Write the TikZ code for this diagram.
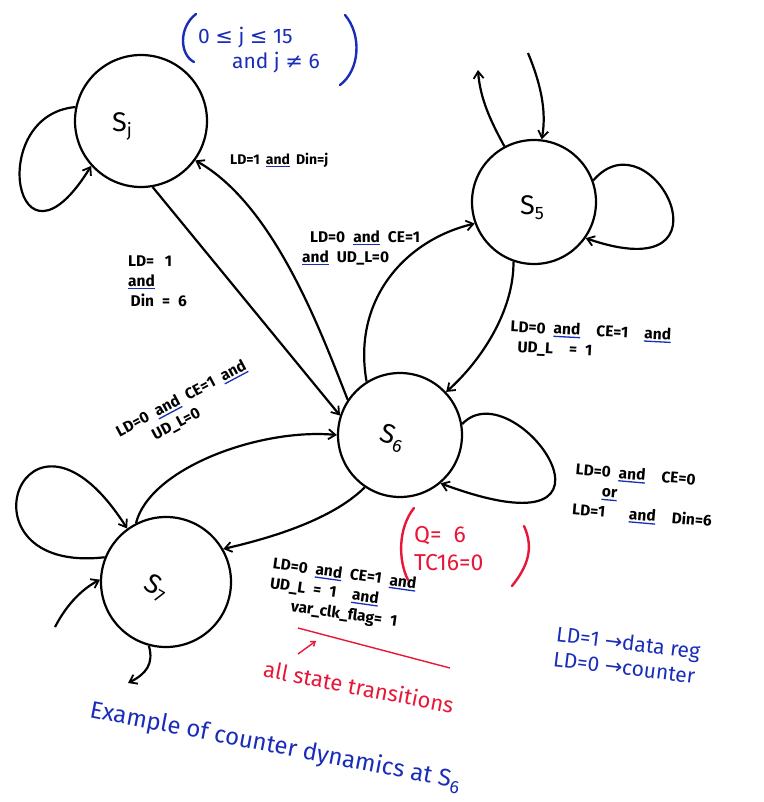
\documentclass[tikz,border=0pt]{standalone}
\usepackage{fontspec}
\setmainfont{Fira Sans}
\newfontfamily\symfont{DejaVu Sans}
\usetikzlibrary{arrows.meta}
\definecolor{penblue}{RGB}{25,45,185}
\definecolor{penred}{RGB}{232,22,55}
% blue underline used for the connective words
\newcommand\und[1]{\setbox0\hbox{#1}\rlap{\color{penblue}\rule[-3pt]{\wd0}{1.3pt}}#1}
% state name with a lowered index
\newcommand\stname[1]{S\lower5pt\hbox{\fontsize{18}{18}\selectfont #1}}
% fonts of the transition conditions, with wide word gaps
\newcommand\condfont{\fontsize{15.5}{20}\selectfont\bfseries\spaceskip=8pt plus 1pt\relax}
\newcommand\smallcondfont{\fontsize{14}{19}\selectfont\bfseries\spaceskip=6pt plus 1pt\relax}
\begin{document}
\begin{tikzpicture}[x=1pt,y=-1pt,line width=2.2pt,
  >={Straight Barb[length=7pt,width=10pt,line width=1.8pt]},
  state/.style={circle,draw,line width=2.2pt,minimum size=#1,inner sep=0pt},
  sname/.style={font=\fontsize{27}{28}\selectfont},
  cond/.style={font=\condfont,align=left,inner sep=1pt},
  bluenote/.style={text=penblue,font=\fontsize{21}{25}\selectfont,align=left,inner sep=1pt},
  rednote/.style={text=penred,font=\fontsize{22}{26}\selectfont,align=left,inner sep=1pt},
  paren/.style={line width=2.4pt,line cap=round},
  edge/.style={->,line width=2.2pt}]
\useasboundingbox (0,0) rectangle (763,802);

% states
\node[state=132pt] (sj) at (141,121) {};
\node[state=124pt] (s5) at (534,202) {};
\node[state=124pt] (s6) at (400,435) {};
\node[state=130pt] (s7) at (166,582) {};

\node[sname] (tj) at (122,126) {\stname{j}};
\node[sname] (t5) at (532,208) {\stname{5}};
\node[sname,rotate=-18] (t6) at (392,438) {\stname{6}};
\node[sname,rotate=-30] (t7) at (156,588) {\stname{7}};

% transitions between states
\draw[edge] (sj.-80) -- (s6.162);
\draw[edge] (s6.146) .. controls (322,335) and (275,205) .. (sj.-36);
\draw[edge] (s6.122) .. controls (352,300) and (405,240) .. (s5.200);
\draw[edge] (s5.251) .. controls (514,310) and (482,360) .. (s6.43);
\draw[edge] (s7.117) .. controls (150,468) and (260,428) .. (s6.180);
\draw[edge] (s6.236) .. controls (330,522) and (262,540) .. (s7.30);

% self loops
\draw[edge] (sj.168) .. controls (-15,115) and (15,290) .. (sj.222);
\draw[edge] (s5.20) .. controls (652,112) and (742,292) .. (s5.-35);
\draw[edge] (s6.10) .. controls (515,368) and (652,562) .. (s6.-50);
\draw[edge] (s7.158) .. controls (-50,575) and (25,368) .. (s7.126);

% transitions to and from other states
\coordinate (o5) at (478,70);
\coordinate (i5) at (528,53);
\coordinate (i7) at (55,627);
\coordinate (o7) at (128,683);
\draw[edge] (s5.118) .. controls (490,120) and (480,98) .. (o5);
\draw[edge] (i5) .. controls (540,82) and (547,110) .. (s5.83);
\draw[edge] (i7) .. controls (68,602) and (84,588) .. (s7.178);
\draw[edge] (s7.-105) .. controls (154,664) and (146,674) .. (o7);

% transition conditions
\node[cond,anchor=west,font=\smallcondfont] (c1) at (228,160) {LD=1 \und{and} Din=j};
\node[cond,anchor=west] (c2) at (126,281) {LD= \,1\\\und{and}\\\,Din = 6};
\node[cond,anchor=west] (c3) at (300,248) {\hspace{8pt}LD=0 \und{and} CE=1\\\und{and} UD\_L=0};
\node[cond,anchor=west,rotate=-3] (c4) at (508,337) {LD=0 \und{and} \ CE=1 \ \und{and}\\\hspace{8pt}UD\_L \ = 1};
\node[cond,anchor=west,rotate=-5] (c5) at (572,490) {LD=0 \und{and} \ CE=0\\\hspace{28pt}\und{or}\\LD=1 \ \ \und{and} \ Din=6};
\node[cond,anchor=center,rotate=28] (c6) at (186,408) {LD=0 \und{and} CE=1 \und{and}\\\hspace{30pt}UD\_L=0};
\node[cond,anchor=west,rotate=-8] (c7) at (268,584) {LD=0 \und{and} CE=1 \und{and}\\UD\_L = 1 \ \und{and}\\\hspace{24pt}var\_clk\_flag= 1};

% range of j
\draw[paren,penblue] (196,14) .. controls (178,28) and (180,55) .. (194,62);
\draw[paren,penblue] (345,15) .. controls (362,35) and (360,70) .. (340,85);
\node[bluenote,anchor=west] (rng) at (196,50) {0 {\symfont ≤} j {\symfont ≤} 15\\\hspace{34pt}and j {\symfont ≠} 6};

% counter value in S6
\draw[paren,penred] (414,508) .. controls (398,528) and (398,560) .. (408,580);
\draw[paren,penred] (524,526) .. controls (534,548) and (528,566) .. (512,586);
\node[rednote,anchor=west,font=\fontsize{23}{28}\selectfont] (qtxt) at (412,549) {Q= \ 6\\TC16=0};

% note below the last condition
\draw[penred,line width=1.4pt] (298,628) -- (450,668);
\coordinate (ra) at (298,654);
\coordinate (rb) at (316,641);
\draw[penred,line width=1.4pt,->,>={Straight Barb[length=4pt,width=6pt]}] (ra) -- (rb);
\node[rednote,anchor=west,rotate=-11] (allst) at (262,668) {all state transitions};

\node[bluenote,anchor=west,rotate=-7] (ldnote) at (553,646) {LD=1 {\symfont →}data reg\\LD=0 {\symfont →}counter};
\node[bluenote,anchor=west,rotate=-11,font=\fontsize{24}{26}\selectfont] (ex) at (88,710) {Example of counter dynamics at \stname{6}};
\end{tikzpicture}
\end{document}
